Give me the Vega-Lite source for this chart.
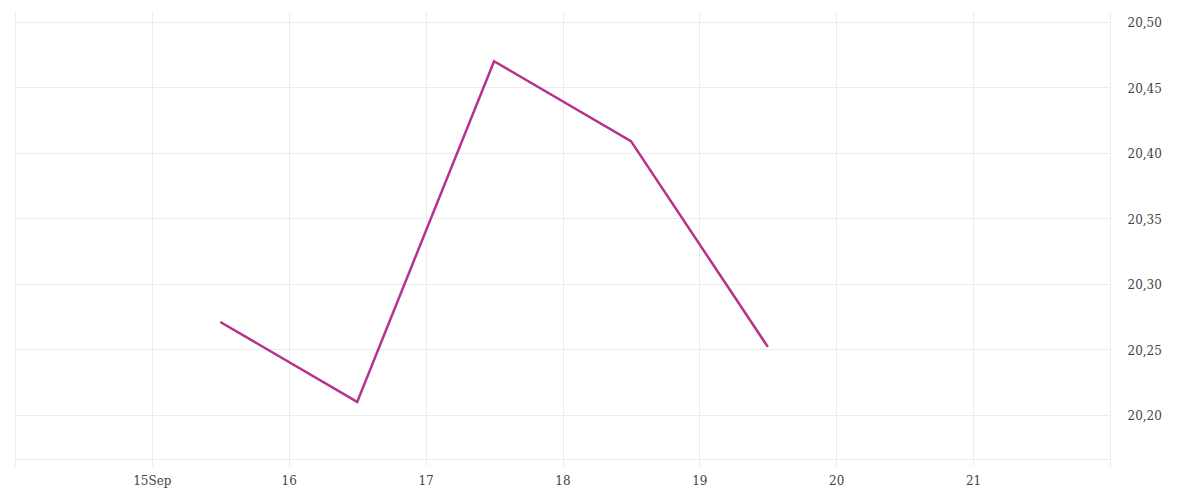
{
  "$schema": "https://vega.github.io/schema/vega-lite/v6.json",
  "width": 1095,
  "height": 447,
  "autosize": "none",
  "padding": {"left": 15, "top": 12, "right": 90, "bottom": 41},
  "config": {
    "view": {"stroke": null},
    "font": "DejaVu Serif",
    "axis": {
      "labelFont": "DejaVu Serif",
      "labelFontSize": 12,
      "labelFontWeight": 300,
      "labelColor": "#444444",
      "gridColor": "#ececec",
      "gridWidth": 1,
      "title": null
    }
  },
  "data": {
    "values": [
      {"date": "2023-09-15T12:00:00", "value": 20.271},
      {"date": "2023-09-16T12:00:00", "value": 20.210},
      {"date": "2023-09-17T12:00:00", "value": 20.470},
      {"date": "2023-09-18T12:00:00", "value": 20.409},
      {"date": "2023-09-19T12:00:00", "value": 20.252}
    ]
  },
  "mark": {"type": "line", "color": "#b5338a", "strokeWidth": 2.5},
  "encoding": {
    "x": {
      "field": "date",
      "type": "temporal",
      "scale": {
        "domain": [
          {"year": 2023, "month": 9, "date": 14},
          {"year": 2023, "month": 9, "date": 22}
        ],
        "nice": false
      },
      "axis": {
        "values": [
          {"year": 2023, "month": 9, "date": 14},
          {"year": 2023, "month": 9, "date": 15},
          {"year": 2023, "month": 9, "date": 16},
          {"year": 2023, "month": 9, "date": 17},
          {"year": 2023, "month": 9, "date": 18},
          {"year": 2023, "month": 9, "date": 19},
          {"year": 2023, "month": 9, "date": 20},
          {"year": 2023, "month": 9, "date": 21},
          {"year": 2023, "month": 9, "date": 22}
        ],
        "labelExpr": "date(datum.value) == 15 ? '15Sep' : (date(datum.value) == 14 || date(datum.value) == 22 ? '' : '' + date(datum.value))",
        "grid": true,
        "domain": true,
        "domainColor": "#ececec",
        "ticks": true,
        "tickColor": "#ececec",
        "tickSize": 7,
        "labelPadding": 9,
        "labelFlush": false,
        "labelOverlap": false
      }
    },
    "y": {
      "field": "value",
      "type": "quantitative",
      "scale": {"domain": [20.1664, 20.5076], "nice": false, "zero": false},
      "axis": {
        "orient": "right",
        "values": [20.2, 20.25, 20.3, 20.35, 20.4, 20.45, 20.5],
        "labelExpr": "replace(format(datum.value, '.2f'), '.', ',')",
        "grid": true,
        "domain": false,
        "ticks": false,
        "labelPadding": 17,
        "labelBaseline": "middle",
        "labelOffset": 1
      }
    }
  }
}
